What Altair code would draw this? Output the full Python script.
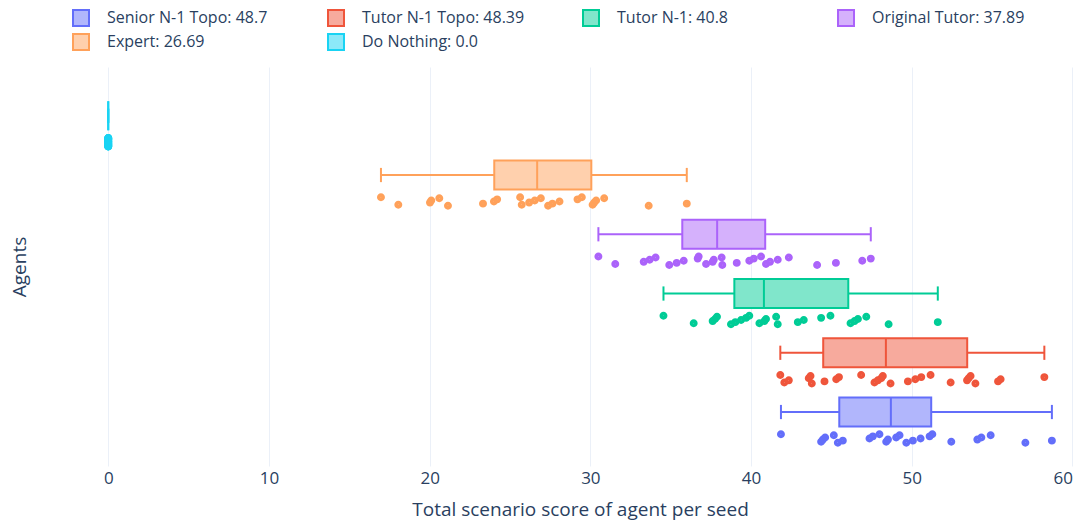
import altair as alt
import pandas as pd

# ---- data ----
agents = ["Senior N-1 Topo", "Tutor N-1 Topo", "Tutor N-1", "Original Tutor", "Expert", "Do Nothing"]
colors = ["#636efa", "#ef553b", "#00cc96", "#ab63fa", "#ffa15a", "#19d3f3"]
# same colours at 50 % over the white background (box fill)
fill_colors = ["#b1b6fc", "#f7aa9d", "#80e6cb", "#d5b1fc", "#ffd0ad", "#8ce9f9"]
medians = [48.7, 48.39, 40.8, 37.89, 26.69, 0.0]
q1s = [45.49, 44.49, 38.96, 35.72, 24.02, 0.0]
q3s = [51.21, 53.45, 46.05, 40.88, 30.06, 0.0]
lows = [41.86, 41.82, 34.55, 30.5, 16.97, 0.0]
highs = [58.72, 58.25, 51.62, 47.45, 36.0, 0.0]

senior_pts = [41.86, 44.36, 44.47, 44.61, 45.15, 45.4, 45.71, 47.37, 47.58, 47.99, 48.41, 48.52,
              49.03, 49.24, 49.66, 50.07, 50.55, 51.11, 51.28, 52.46, 54.08, 54.33, 54.91, 57.07, 58.72]
tutor_topo_pts = [41.82, 42.07, 42.35, 43.59, 43.7, 43.78, 44.57, 45.3, 45.47, 46.85, 47.68, 47.89,
                  48.1, 48.2, 48.68, 49.76, 50.22, 50.59, 51.17, 52.42, 53.44, 53.54, 53.66, 53.96,
                  55.37, 55.53, 58.25]
tutor_n1_pts = [34.55, 36.43, 37.61, 37.76, 37.88, 38.75, 39.02, 39.38, 39.69, 39.89, 40.52, 40.83,
                40.93, 41.56, 41.66, 42.91, 43.28, 44.36, 44.94, 46.19, 46.44, 46.65, 47.17, 48.56, 51.62]
original_pts = [30.5, 31.55, 33.32, 33.69, 34.06, 34.91, 35.37, 35.81, 36.68, 36.74, 37.2, 37.61,
                37.68, 38.17, 38.21, 39.11, 39.89, 40.17, 40.62, 40.93, 41.18, 41.66, 42.35, 44.11,
                45.28, 46.92, 47.45]
expert_pts = [16.97, 18.05, 20.02, 20.1, 20.6, 21.14, 23.32, 24.0, 24.2, 25.63, 25.73, 26.19, 26.54,
              26.92, 27.37, 27.64, 28.08, 29.2, 29.47, 30.14, 30.24, 30.36, 30.86, 33.63, 36.0]
nothing_pts = [0.0] * 25

all_pts = [senior_pts, tutor_topo_pts, tutor_n1_pts, original_pts, expert_pts, nothing_pts]
labels = [f"{a}: {m}" for a, m in zip(agents, medians)]

n = len(agents)
stats = pd.DataFrame({
    "agent": agents, "label": labels, "row": [n - 1 - i for i in range(n)],
    "q1": q1s, "med": medians, "q3": q3s, "lo": lows, "hi": highs,
})
rows = []
for i, pts in enumerate(all_pts):
    for k, v in enumerate(pts):
        rows.append({"agent": agents[i], "label": labels[i], "row": n - 1 - i, "k": k, "score": v})
points = pd.DataFrame(rows)

# ---- styling ----
FONT = "Open Sans"
TXT = "#2a3f5f"
XT = "Total scenario score of agent per seed"
YT = "Agents"

xscale = alt.Scale(domain=[-2.94, 60.22], nice=False, zero=False)
yscale = alt.Scale(domain=[-0.823, 5.911], nice=False, zero=False, reverse=True)
sscale = alt.Scale(domain=labels, range=colors)
fscale = alt.Scale(domain=labels, range=fill_colors)

xaxis = alt.Axis(values=[0, 10, 20, 30, 40, 50, 60], grid=True, gridColor="#ebf0f8", gridWidth=1,
                 domain=False, ticks=False, labelPadding=4, labelFontSize=17, labelColor=TXT,
                 labelFont=FONT, titleFont=FONT, titleFontSize=19, titleColor=TXT,
                 titleFontWeight="normal", titlePadding=14, titleX=519,
                 labelFlush=5, labelFlushOffset=0)
yaxis = alt.Axis(labels=False, ticks=False, grid=False, domain=False, titleFont=FONT,
                 titleFontSize=19, titleColor=TXT, titleFontWeight="normal", titlePadding=32)

legend = alt.Legend(title=None, orient="none", legendX=11, legendY=-58, direction="horizontal",
                    columns=4, symbolType="square", symbolSize=256, symbolStrokeWidth=2,
                    labelFontSize=16, labelFont=FONT, labelColor=TXT, labelOffset=17,
                    columnPadding=54, rowPadding=0, gridAlign="all", labelLimit=400)

base = alt.Chart(stats).transform_calculate(
    yt="datum.row - 0.245", yb="datum.row + 0.245",
    ct="datum.row - 0.12", cb="datum.row + 0.12",
)

box = base.mark_rect(strokeWidth=2).encode(
    x=alt.X("q1:Q", scale=xscale, axis=xaxis, title=XT),
    x2="q3:Q",
    y=alt.Y("yt:Q", scale=yscale, axis=yaxis, title=YT),
    y2="yb:Q",
    fill=alt.Fill("label:N", scale=fscale, legend=legend),
    stroke=alt.Stroke("label:N", scale=sscale, legend=legend),
)

def rule(xf, x2f=None, yf="row", y2f=None):
    enc = dict(
        x=alt.X(f"{xf}:Q", title=XT),
        y=alt.Y(f"{yf}:Q", title=YT),
        stroke=alt.Stroke("label:N", scale=sscale, legend=legend),
    )
    if x2f:
        enc["x2"] = f"{x2f}:Q"
    if y2f:
        enc["y2"] = f"{y2f}:Q"
    return base.mark_rule(strokeWidth=2).encode(**enc)

median = rule("med", yf="yt", y2f="yb")
wl = rule("lo", x2f="q1")
wr = rule("q3", x2f="hi")
cl = rule("lo", yf="ct", y2f="cb")
cr = rule("hi", yf="ct", y2f="cb")

# dots: small circle with a thick outline so it reads as a solid disc of full colour
dots = alt.Chart(points).transform_calculate(
    yp="datum.row + 0.447 + ((datum.k * 7) % 9 - 4) * 0.018"
).mark_point(shape="circle", filled=False, size=14, strokeWidth=4.2, opacity=1).encode(
    x=alt.X("score:Q", title=XT),
    y=alt.Y("yp:Q", title=YT),
    stroke=alt.Stroke("label:N", scale=sscale, legend=legend),
)

chart = alt.layer(box, wl, wr, cl, cr, median, dots).properties(
    width=1015, height=399, autosize="none",
    padding={"left": 53, "top": 59, "right": 0, "bottom": 57},
    background="white",
).configure_view(stroke=None)

chart.save("out.html", embed_options={"renderer": "svg", "actions": False})
